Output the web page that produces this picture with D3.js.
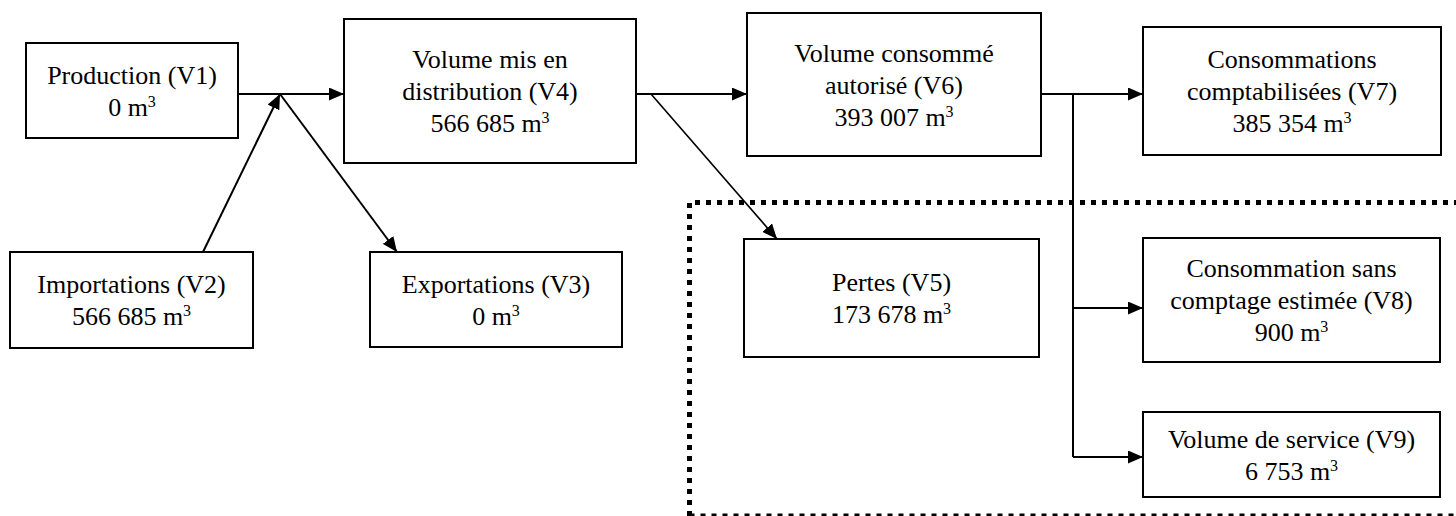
<!DOCTYPE html>
<html lang="fr">
<head>
<meta charset="utf-8">
<title>Bilan des volumes</title>
<script src="https://d3js.org/d3.v7.min.js"></script>
<style>
  html, body { margin: 0; padding: 0; background: #fff; }
  svg { display: block; }
  text { font-family: "Liberation Serif", "Times New Roman", serif; font-size: 26px; fill: #000; }
</style>
</head>
<body>
<svg id="chart" width="1456" height="516"></svg>
<script>
// data
var ids = ["V1", "V2", "V3", "V4", "V5", "V6", "V7", "V8", "V9"];
var labels = [
  ["Production (V1)"],
  ["Importations (V2)"],
  ["Exportations (V3)"],
  ["Volume mis en", "distribution (V4)"],
  ["Pertes (V5)"],
  ["Volume consommé", "autorisé (V6)"],
  ["Consommations", "comptabilisées (V7)"],
  ["Consommation sans", "comptage estimée (V8)"],
  ["Volume de service (V9)"]
];
var volumes = [0, 566685, 0, 566685, 173678, 393007, 385354, 900, 6753];
var unit = "m";

// layout (pixels)
var boxes = {
  V1: [26, 43, 212, 95],
  V2: [10, 252, 243, 96],
  V3: [370, 252, 252, 95],
  V4: [344, 19, 292, 144],
  V5: [744, 239, 295, 118],
  V6: [747, 13, 294, 143],
  V7: [1143, 27, 298, 128],
  V8: [1143, 238, 297, 124],
  V9: [1143, 412, 297, 85]
};
var links = [
  {d: [[238, 94], [344, 94]], w: 2, arrow: true},
  {d: [[203, 252], [280, 94]], w: 2, arrow: true},
  {d: [[280, 94], [397, 252]], w: 2, arrow: true},
  {d: [[636, 94], [747, 94]], w: 2, arrow: true},
  {d: [[651, 94], [777, 239]], w: 1.6, arrow: true},
  {d: [[1041, 94], [1143, 94]], w: 2, arrow: true},
  {d: [[1073, 94], [1073, 457]], w: 2, arrow: false},
  {d: [[1073, 308], [1143, 308]], w: 2, arrow: true},
  {d: [[1073, 457], [1143, 457]], w: 2, arrow: true}
];

var fmt = d3.formatLocale({decimal: ",", thousands: " ", grouping: [3], currency: ["", " €"]}).format(",d");

var svg = d3.select("#chart");

svg.append("defs").append("marker")
  .attr("id", "head")
  .attr("viewBox", "0 0 15 13")
  .attr("refX", 15).attr("refY", 6.5)
  .attr("markerWidth", 15).attr("markerHeight", 13)
  .attr("markerUnits", "userSpaceOnUse")
  .attr("orient", "auto")
  .append("path")
  .attr("d", "M0,0 L15,6.5 L0,13 Z")
  .attr("fill", "#000");

// dotted zone round the losses and consumptions
svg.append("path")
  .attr("d", "M689.5,516 V202.5 H1460")
  .attr("fill", "none")
  .attr("stroke", "#000")
  .attr("stroke-width", 5)
  .attr("stroke-dasharray", "5,6");
svg.append("path")
  .attr("d", "M689.5,516 H1460")
  .attr("fill", "none")
  .attr("stroke", "#000")
  .attr("stroke-width", 5)
  .attr("stroke-dasharray", "5,6");

var line = d3.line();
svg.selectAll("path.link")
  .data(links)
  .join("path")
  .attr("class", "link")
  .attr("d", function(l) { return line(l.d); })
  .attr("fill", "none")
  .attr("stroke", "#000")
  .attr("stroke-width", function(l) { return l.w; })
  .attr("marker-end", function(l) { return l.arrow ? "url(#head)" : null; });

var nodes = ids.map(function(id, i) {
  return {id: id, lines: labels[i], value: volumes[i], box: boxes[id]};
});

var g = svg.selectAll("g.node")
  .data(nodes)
  .join("g")
  .attr("class", "node");

g.append("rect")
  .attr("x", function(d) { return d.box[0]; })
  .attr("y", function(d) { return d.box[1]; })
  .attr("width", function(d) { return d.box[2]; })
  .attr("height", function(d) { return d.box[3]; })
  .attr("fill", "#fff")
  .attr("stroke", "#000")
  .attr("stroke-width", 2);

var lh = 32;
g.each(function(d) {
  var cx = d.box[0] + d.box[2] / 2;
  var cy = d.box[1] + d.box[3] / 2;
  var rows = d.lines.length + 1;
  var sel = d3.select(this);
  d.lines.forEach(function(t, i) {
    sel.append("text")
      .attr("x", cx)
      .attr("y", cy + (i - (rows - 1) / 2) * lh + 9)
      .attr("text-anchor", "middle")
      .text(t);
  });
  var v = sel.append("text")
    .attr("x", cx)
    .attr("y", cy + (rows - 1 - (rows - 1) / 2) * lh + 9)
    .attr("text-anchor", "middle");
  v.append("tspan").text(fmt(d.value) + " " + unit);
  v.append("tspan").attr("dy", -9).style("font-size", "16px").text("3");
});
</script>
</body>
</html>
